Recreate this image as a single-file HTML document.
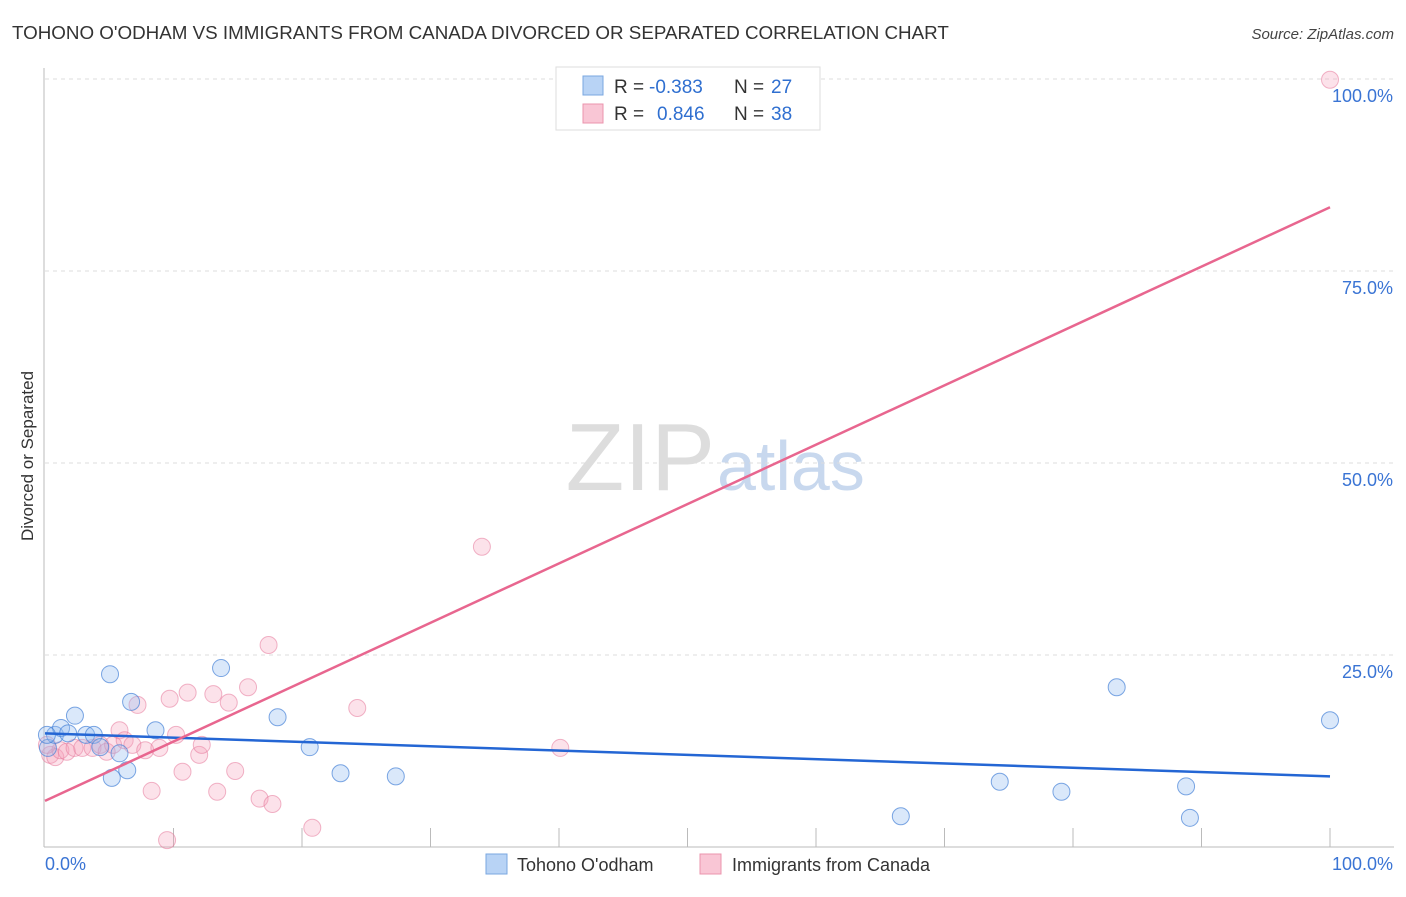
<!DOCTYPE html>
<html><head><meta charset="utf-8"><style>
body{margin:0;background:#fff;font-family:"Liberation Sans",sans-serif;}
svg text{font-family:"Liberation Sans",sans-serif;}
</style></head><body>
<svg id="chart" width="1406" height="892" viewBox="0 0 1406 892" xmlns="http://www.w3.org/2000/svg">
<text x="12" y="39" font-size="18.8" fill="#333">TOHONO O'ODHAM VS IMMIGRANTS FROM CANADA DIVORCED OR SEPARATED CORRELATION CHART</text>
<text x="1394" y="39" font-size="15" fill="#444" text-anchor="end" font-style="italic">Source: ZipAtlas.com</text>
<text x="715" y="490" font-size="96" fill="#ddd" text-anchor="end" font-family="Liberation Serif">ZIP</text>
<text x="717" y="490" font-size="70" fill="#c8d8ee">atlas</text>
<text transform="translate(33,456) rotate(-90)" font-size="17" fill="#333" text-anchor="middle">Divorced or Separated</text>
<g id="grid"></g><g id="axes"></g><g id="pts"></g><g id="lines"></g>
<g>
<rect x="556" y="67" width="264" height="63" fill="#fff" stroke="#ddd"/>
<rect x="583" y="76" width="20" height="19" fill="#b8d3f5" stroke="#7aa7e0"/>
<rect x="583" y="104" width="20" height="19" fill="#f9c6d5" stroke="#eb94ad"/>
<text x="614" y="93" font-size="19" fill="#333">R =</text>
<text x="649" y="93" font-size="19" fill="#2f6fd0">-0.383</text>
<text x="734" y="93" font-size="19" fill="#333">N =</text>
<text x="771" y="93" font-size="19" fill="#2f6fd0">27</text>
<text x="614" y="120" font-size="19" fill="#333">R =</text>
<text x="657" y="120" font-size="19" fill="#2f6fd0">0.846</text>
<text x="734" y="120" font-size="19" fill="#333">N =</text>
<text x="771" y="120" font-size="19" fill="#2f6fd0">38</text>
</g>
<g>
<rect x="486" y="854" width="21" height="20" fill="#b8d3f5" stroke="#7aa7e0"/>
<text x="517" y="871" font-size="18" fill="#333">Tohono O'odham</text>
<rect x="700" y="854" width="21" height="20" fill="#f9c6d5" stroke="#eb94ad"/>
<text x="732" y="871" font-size="18" fill="#333">Immigrants from Canada</text>
</g>
</svg>
<script>
const yTicks=[25,50,75,100];
const yTickLabels=["25.0%","50.0%","75.0%","100.0%"];
const xTickLabels=["0.0%","100.0%"];
const blueX=[0.23,0.78,1.25,1.8,2.33,3.2,3.8,4.3,5.06,5.2,5.8,6.4,6.7,8.6,13.7,18.1,20.6,23.0,27.3,66.6,74.3,79.1,83.4,88.8,89.1,100,0.15];
const blueY=[12.9,14.6,15.5,14.8,17.1,14.6,14.6,13.0,22.5,9.0,12.2,10.0,18.9,15.2,23.3,16.9,13.0,9.6,9.2,4.0,8.5,7.2,20.8,7.9,3.8,16.5,14.6];
const pinkX=[0.4,0.8,1.2,1.7,2.3,2.9,3.7,4.3,4.8,5.3,5.8,6.2,6.8,7.2,7.8,8.3,8.9,9.5,9.7,10.2,10.7,11.1,12.0,12.2,13.1,13.4,14.3,14.8,15.8,16.7,17.4,17.7,20.8,24.3,34.0,40.1,100,0.15];
const pinkY=[12.0,11.7,12.6,12.4,12.9,12.9,12.9,13.3,12.4,13.3,15.2,13.9,13.3,18.5,12.6,7.3,12.9,0.9,19.3,14.6,9.8,20.1,12.0,13.3,19.9,7.2,18.8,9.9,20.8,6.3,26.3,5.6,2.5,18.1,39.1,12.9,99.9,13.3];
const blueTrend=[14.8,9.2];
const pinkTrend=[6.0,83.3];
const NS="http://www.w3.org/2000/svg";
const X=v=>45+v*12.85, Y=v=>847-v*7.68;
function mk(tag,attrs,parent){const e=document.createElementNS(NS,tag);for(const k in attrs)e.setAttribute(k,attrs[k]);document.getElementById(parent).appendChild(e);return e;}
yTicks.forEach((t,i)=>{
 const g=mk('line',{x1:45,x2:1394,y1:Y(t),y2:Y(t),stroke:'#ddd','stroke-dasharray':'4,4'},'grid');
 
 
 const l=mk('text',{x:1393,y:Y(t)+23,'font-size':18,fill:'#3a74d4','text-anchor':'end'},'grid');
 l.textContent=yTickLabels[i];
 
 
});
const ax=mk('line',{x1:44,x2:44,y1:68,y2:847,stroke:'#bbb'},'axes');


const bx=mk('line',{x1:44,x2:1394,y1:847,y2:847,stroke:'#bbb'},'axes');


for(let k=1;k<=10;k++){
 const t=mk('line',{x1:X(k*10),x2:X(k*10),y1:828,y2:847,stroke:'#bbb'},'axes');
 
 
}
const xl0=mk('text',{x:45,y:870,'font-size':18,fill:'#3a74d4'},'axes');xl0.textContent=xTickLabels[0];


const xl1=mk('text',{x:1393,y:870,'font-size':18,fill:'#3a74d4','text-anchor':'end'},'axes');xl1.textContent=xTickLabels[1];


pinkX.forEach((v,i)=>{
 const c=mk('circle',{cx:X(v),cy:Y(pinkY[i]),r:8.5,fill:'rgba(244,160,185,0.3)',stroke:'rgba(230,120,155,0.55)','stroke-width':1},'pts');
 
 
});
blueX.forEach((v,i)=>{
 const c=mk('circle',{cx:X(v),cy:Y(blueY[i]),r:8.5,fill:'rgba(150,190,240,0.35)',stroke:'rgba(70,130,215,0.7)','stroke-width':1},'pts');
 
 
});
const bl=mk('line',{x1:X(0),y1:Y(blueTrend[0]),x2:X(100),y2:Y(blueTrend[1]),stroke:'#2466d4','stroke-width':2.5},'lines');


const pl=mk('line',{x1:X(0),y1:Y(pinkTrend[0]),x2:X(100),y2:Y(pinkTrend[1]),stroke:'#e8668f','stroke-width':2.5},'lines');


</script>
</body></html>
